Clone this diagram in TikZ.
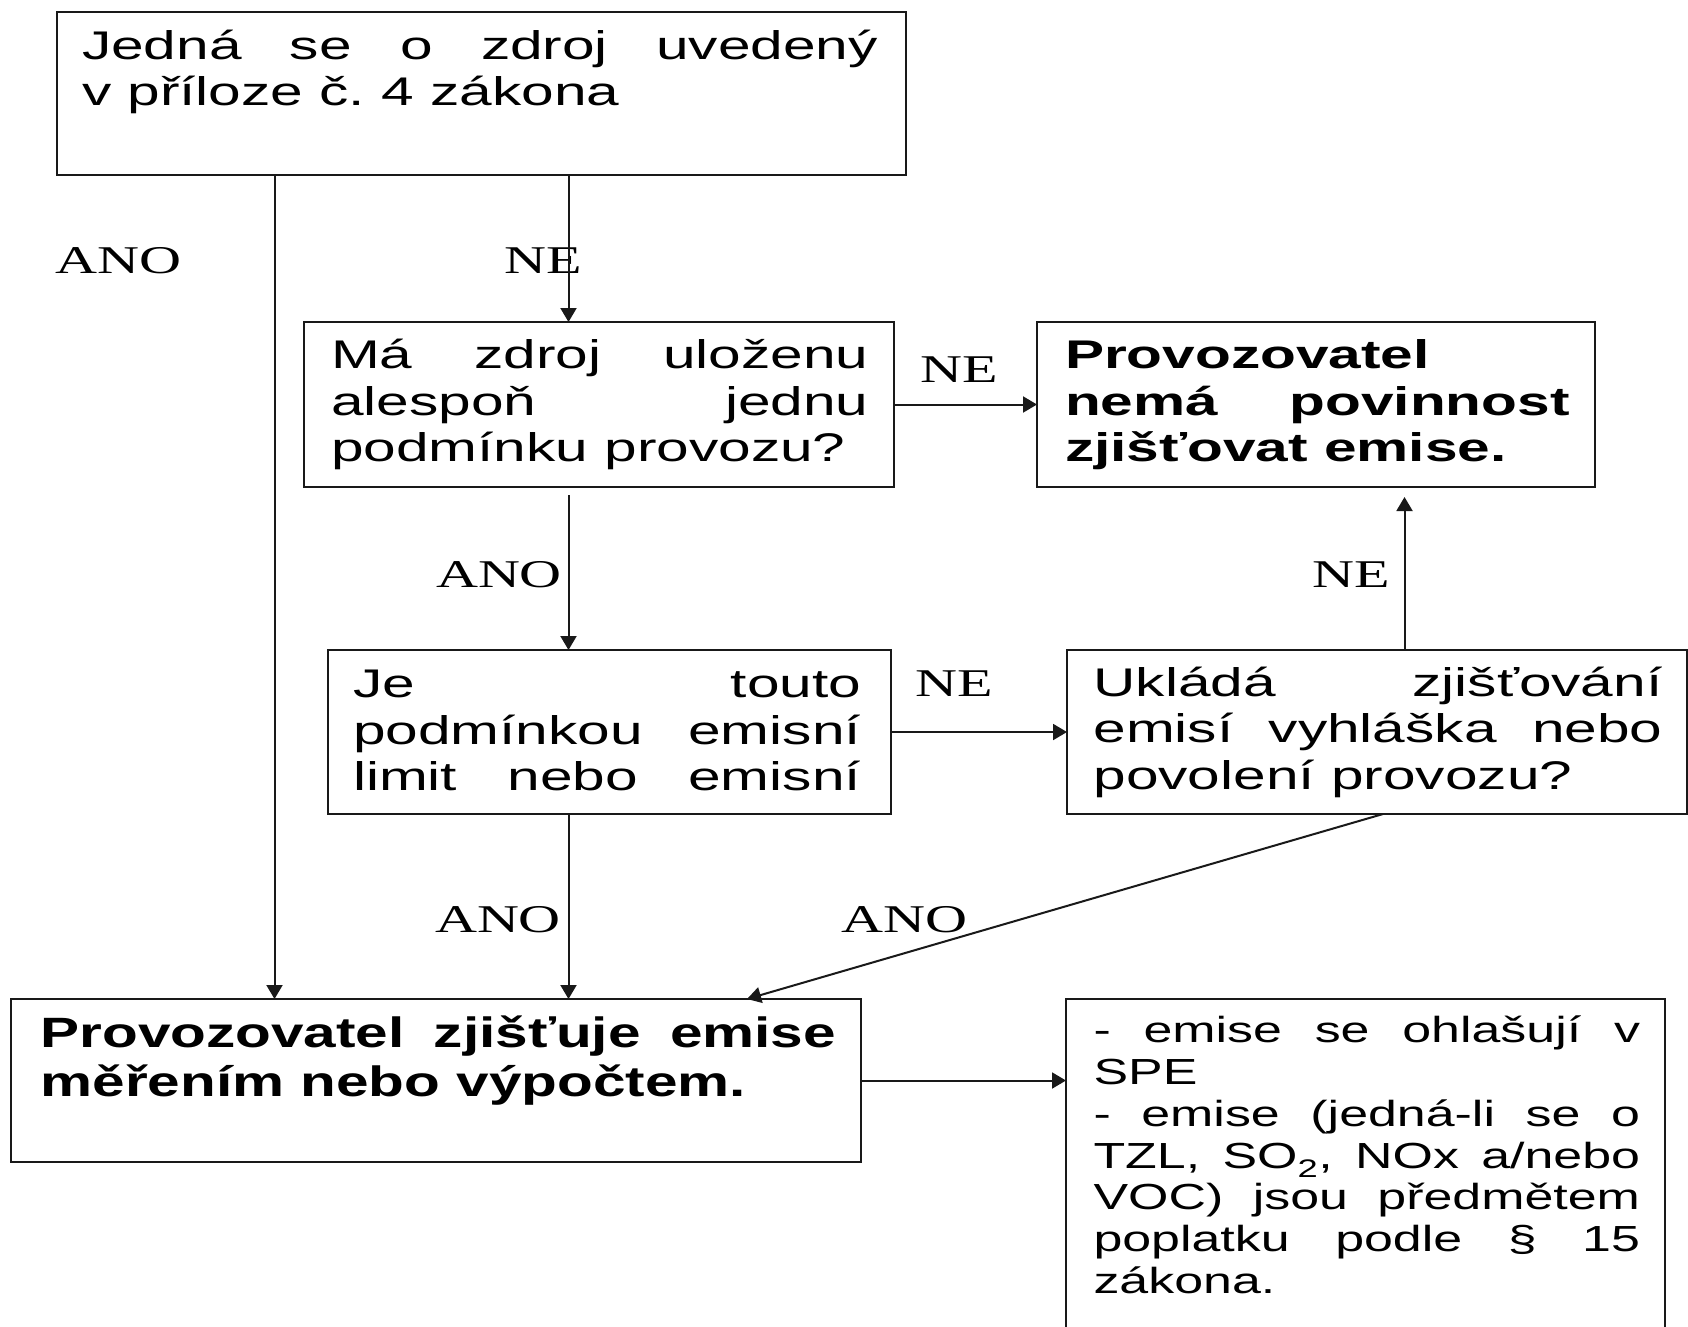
\documentclass[tikz,border=0pt]{standalone}
\usepackage{fontspec}
\setmainfont{Liberation Sans}
\newfontfamily\timesf{Liberation Serif}
\usepackage{graphicx}
\usetikzlibrary{arrows.meta}
\frenchspacing
\newcommand{\jl}[1]{\makebox[\linewidth][s]{#1}}
\newcommand{\boxtext}[3]{\scalebox{#1}[1]{\parbox[t]{#2}{\frenchspacing #3}}}
\begin{document}
\begin{tikzpicture}[x=1pt,y=-1pt,
  box/.style={draw=black!90, line width=2pt, rectangle, inner sep=0pt, outer sep=0pt, anchor=north west},
  arr/.style={draw=black!90, line width=2pt, -{Triangle[length=14pt,width=16pt]}},
  txt/.style={anchor=base west, inner sep=0pt, outer sep=0pt},
  lab/.style={anchor=base west, inner sep=0pt, outer sep=0pt, font=\timesf\fontsize{39.3}{45}\selectfont}]
\fill[white] (0,0) rectangle (1688,1326);
\useasboundingbox (0,0) rectangle (1688,1326);

% boxes
\node[box, minimum width=849pt, minimum height=163pt] (A) at (57,12) {};
\node[box, minimum width=590pt, minimum height=165pt] (B) at (304,322) {};
\node[box, minimum width=558pt, minimum height=165pt] (C) at (1037,322) {};
\node[box, minimum width=563pt, minimum height=164pt] (D) at (328,650) {};
\node[box, minimum width=620pt, minimum height=164pt] (E) at (1067,650) {};
\node[box, minimum width=850pt, minimum height=163pt] (F) at (11,999) {};
\node[inner sep=0pt, outer sep=0pt, anchor=north west, minimum width=599pt, minimum height=340pt] (G) at (1066,999) {};
\draw[line width=2pt, black!90] (G.south west) -- (G.north west) -- (G.north east) -- (G.south east);

% texts
\node[txt] (tA) at (82,59.3) {\boxtext{1.465}{543.3pt}{\fontsize{40}{45.7}\selectfont
\jl{Jedná se o zdroj uvedený}\\
v příloze č. 4 zákona}};
\node[txt] (tB) at (331,368.3) {\boxtext{1.465}{366.9pt}{\fontsize{40}{46.7}\selectfont
\jl{Má zdroj uloženu}\\
\jl{alespoň jednu}\\
podmínku provozu?}};
\node[txt] (tC) at (1065,368.9) {\boxtext{1.465}{344.4pt}{\fontsize{40}{46.5}\selectfont\bfseries
Provozovatel\\
\jl{nemá povinnost}\\
zjišťovat emise.}};
\node[txt] (tD) at (353,697.3) {\boxtext{1.465}{346.8pt}{\fontsize{40}{46.7}\selectfont
\jl{Je touto}\\
\jl{podmínkou emisní}\\
\jl{limit nebo emisní}}};
\node[txt] (tE) at (1093.5,696) {\boxtext{1.465}{388.4pt}{\fontsize{40}{46.5}\selectfont
\jl{Ukládá zjišťování}\\
\jl{emisí vyhláška nebo}\\
povolení provozu?}};
\node[txt] (tF) at (40.5,1047.3) {\boxtext{1.38}{576.4pt}{\fontsize{42.4}{48.7}\selectfont\bfseries
\jl{Provozovatel zjišťuje emise}\\
měřením nebo výpočtem.}};
\node[txt] (tG) at (1093.5,1042.7) {\boxtext{1.43}{382.2pt}{\fontsize{36.3}{41.77}\selectfont
\jl{- emise se ohlašují v}\\
SPE\\
\jl{- emise (jedná-li se o}\\
\jl{TZL, SO\textsubscript{2}, NOx a/nebo}\\
\jl{VOC) jsou předmětem}\\
\jl{poplatku podle § 15}\\
zákona.}};

% labels
\node[lab] (l1) at (55.7,273.3) {\scalebox{1.48}[1]{ANO}};
\node[lab] (l2) at (504.7,273.3) {\scalebox{1.48}[1]{NE}};
\node[lab] (l3) at (920.2,382.8) {\scalebox{1.48}[1]{NE}};
\node[lab] (l4) at (436,587.8) {\scalebox{1.48}[1]{ANO}};
\node[lab] (l5) at (1312,587.5) {\scalebox{1.48}[1]{NE}};
\node[lab] (l6) at (915,696) {\scalebox{1.48}[1]{NE}};
\node[lab] (l7) at (435,932.7) {\scalebox{1.48}[1]{ANO}};
\node[lab] (l8) at (841.7,932.7) {\scalebox{1.48}[1]{ANO}};

% connectors
\coordinate (aL) at ([xshift=217.5pt]A.south west);
\coordinate (aR) at ([xshift=511.5pt]A.south west);
\coordinate (eU) at ([xshift=337.5pt]E.north west);
\coordinate (eD) at ([xshift=316pt]E.south west);
\coordinate (fD) at ([xshift=736pt]F.north west);
\draw[arr] (aL) -- (aL |- F.north);
\draw[arr] (aR) -- (aR |- B.north);
\draw[arr, shorten <=8pt] (aR |- B.south) -- (aR |- D.north);
\draw[arr] (aR |- D.south) -- (aR |- F.north);
\draw[arr] (B.east) -- (C.west);
\draw[arr] (D.east) -- (E.west);
\draw[arr, shorten >=10pt] (eU) -- (eU |- C.south);
\draw[arr] (eD) -- (fD);
\draw[arr] (F.east) -- (F.east -| G.west);
\end{tikzpicture}
\end{document}
